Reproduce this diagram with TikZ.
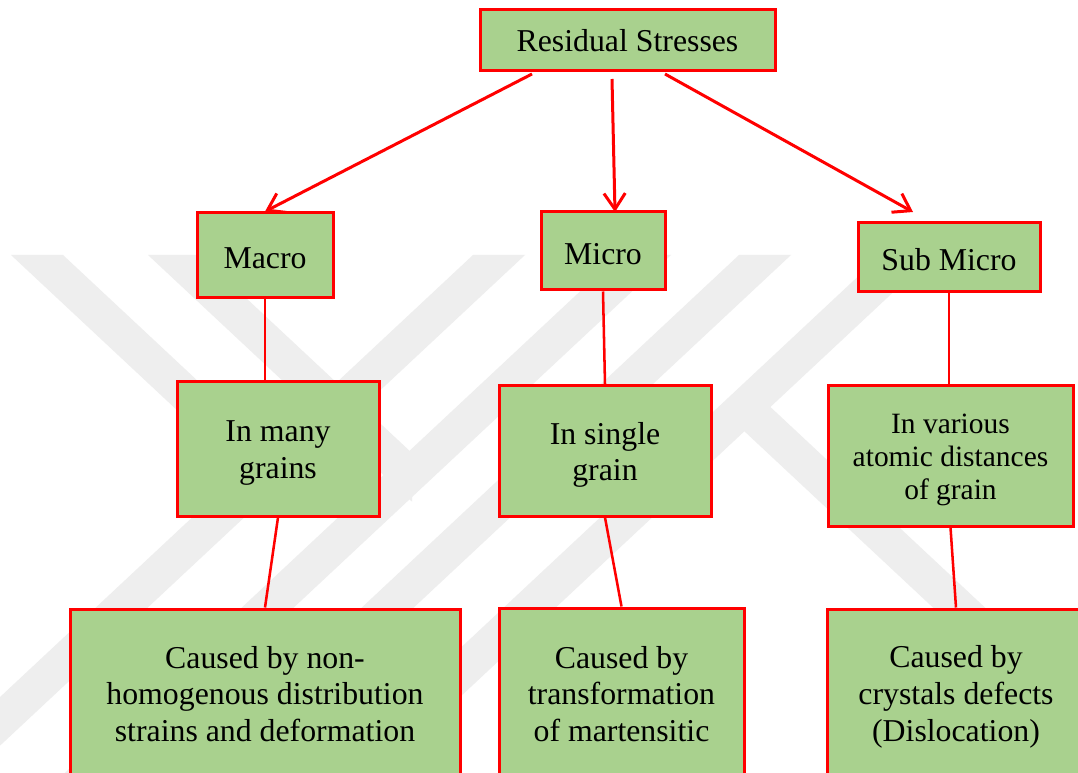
\documentclass[tikz,border=0pt]{standalone}
\usepackage{fontspec}
\setmainfont{Liberation Serif}
\usetikzlibrary{arrows.meta}
\definecolor{boxgreen}{HTML}{A9D18E}
\definecolor{wm}{gray}{0.935}
\begin{document}
\begin{tikzpicture}[x=0.75pt,y=-0.75pt,
  box/.style={draw=red, fill=boxgreen, line width=2.25pt, inner sep=0pt},
  txt/.style={align=center, text=black, inner sep=0pt, font=\fontsize{23.85}{27.5}\selectfont},
  txtsmall/.style={txt, font=\fontsize{22.1}{24.8}\selectfont},
  arr/.style={draw=red, line width=2.25pt, -{Straight Barb[length=12pt,width=16pt]}},
  conn/.style={draw=red, line width=1.9pt},
  band/.style={fill=wm, draw=none}]
\useasboundingbox (0,0) rectangle (1078,773);
\clip (0,0) rectangle (1078,773);
\fill[white] (0,0) rectangle (1078,773);
% faint watermark
\fill[band] (11,255) -- (63,255) -- (268,446.6) -- (268,495.2) -- cycle;
\fill[band] (148,255) -- (200,255) -- (412,453.1) -- (412,501.7) -- cycle;
\fill[band] (473,255) -- (525,255) -- (-74.2,815) -- (-126.2,815) -- cycle;
\fill[band] (619,255) -- (671,255) -- (71.8,815) -- (19.8,815) -- cycle;
\fill[band] (739,255) -- (791,255) -- (191.8,815) -- (139.8,815) -- cycle;
\fill[band] (881,255) -- (933,255) -- (333.8,815) -- (281.8,815) -- cycle;
\fill[band] (718.4,407) -- (770.4,407) -- (1209.1,817) -- (1157.1,817) -- cycle;
% boxes
\node[box, minimum width=221.25pt, minimum height=45.75pt] (rs) at (627.5,40.5) {};
\node[box, minimum width=102pt, minimum height=63.75pt] (macro) at (265,255.5) {};
\node[box, minimum width=93pt, minimum height=58.5pt] (micro) at (603,251) {};
\node[box, minimum width=136.5pt, minimum height=51.75pt] (sub) at (949,257.5) {};
\node[box, minimum width=151.5pt, minimum height=100.5pt] (many) at (278,449) {};
\node[box, minimum width=159pt, minimum height=97.5pt] (single) at (605,451) {};
\node[box, minimum width=183.75pt, minimum height=105pt] (various) at (950.5,456) {};
\node[box, minimum width=292.5pt, minimum height=127.5pt] (c1) at (265,694) {};
\node[box, minimum width=183.75pt, minimum height=127.5pt] (c2) at (621.5,693) {};
\node[box, minimum width=193.5pt, minimum height=127.5pt] (c3) at (956,694) {};
% texts
\node[txt] (rst) at (627.5,40.5) {Residual Stresses};
\node[txt] (macrot) at (265,258.5) {Macro};
\node[txt] (microt) at (603,254) {Micro};
\node[txt] (subt) at (949,259.5) {Sub Micro};
\node[txt] (manyt) at (278,453) {In many\\grains};
\node[txt] (singlet) at (605,455) {In single\\grain};
\node[txtsmall] (varioust) at (950.5,459.5) {In various\\atomic distances\\of grain};
\node[txt] (c1t) at (265,694) {Caused by non-\\homogenous distribution\\strains and deformation};
\node[txt] (c2t) at (621.5,694) {Caused by\\transformation\\of martensitic};
\node[txt] (c3t) at (956,697) {Caused by\\crystals defects\\(Dislocation)};
% connectors
\coordinate (a1s) at (532,74);
\coordinate (a2s) at (612,79);
\coordinate (a2e) at (615,212);
\coordinate (a3s) at (665,74);
\coordinate (a3e) at (913,212);
\draw[arr] (a1s) -- (macro.north);
\draw[arr] (a2s) -- (a2e);
\draw[arr] (a3s) -- (a3e);
\draw[conn] (macro.south) -- (macro.south |- many.north);
\draw[conn] (many.south) -- (c1.north);
\draw[conn] (micro.south) -- (single.north);
\draw[conn] (single.south) -- (c2.north);
\draw[conn] (sub.south) -- (sub.south |- various.north);
\draw[conn] (various.south) -- (c3.north);
\end{tikzpicture}
\end{document}
